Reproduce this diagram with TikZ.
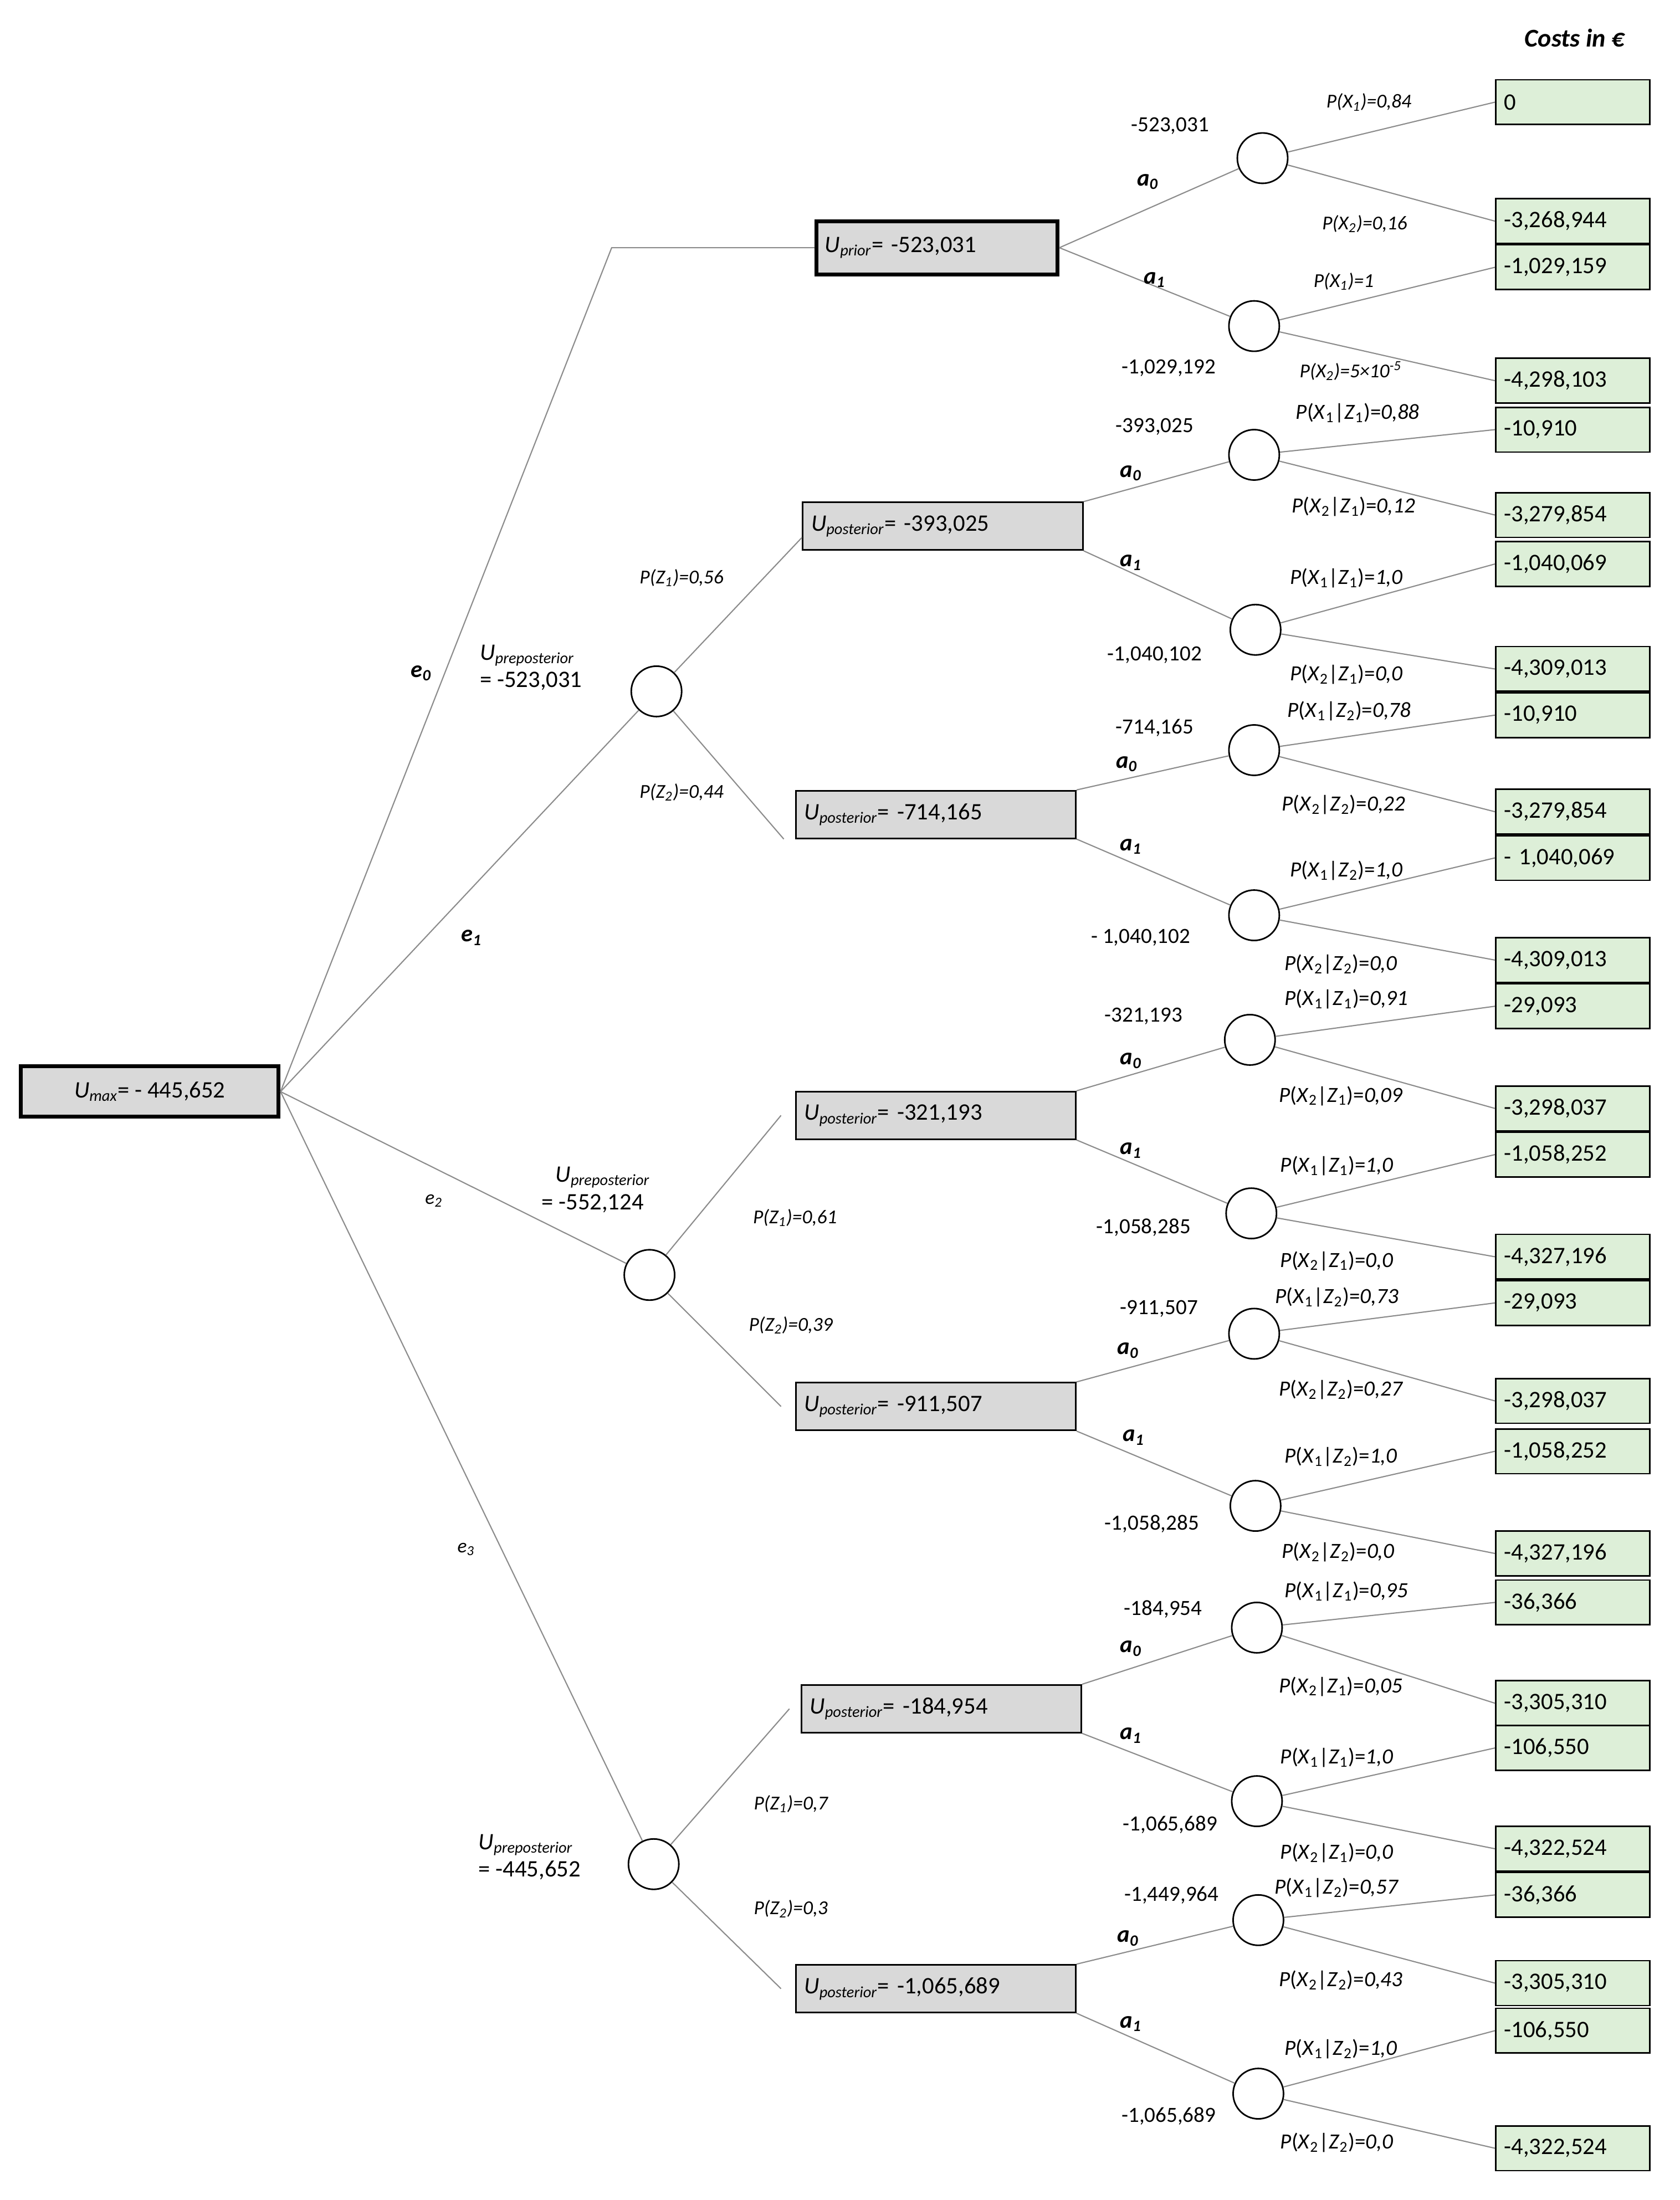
\documentclass[tikz,border=0pt]{standalone}
\usepackage{fontspec}
\setmainfont{Carlito}
\newcommand{\Ux}[1]{\textit{U\textsubscript{#1}}}
\begin{document}
\begin{tikzpicture}[x=0.025cm,y=-0.025cm,font=\fontsize{11}{13}\selectfont]
\definecolor{leafg}{HTML}{DDEFD8}
\definecolor{boxg}{HTML}{D9D9D9}
\definecolor{ln}{HTML}{8C8C8C}
\tikzset{
 leaf/.style={draw,thick,fill=leafg,anchor=west,minimum width=2.75cm,minimum height=0.8cm,text width=2.45cm,align=left,inner sep=3pt,font=\fontsize{12}{14}\selectfont},
 chance/.style={circle,draw,thick,minimum size=0.9cm,inner sep=0pt},
 post/.style={draw,thick,fill=boxg,anchor=west,minimum width=5cm,minimum height=0.85cm,text width=4.7cm,align=left,font=\fontsize{12}{14}\selectfont},
 conn/.style={draw=ln,line width=0.6pt},
 pl/.style={font=\fontsize{10}{12}\selectfont\itshape},
 val/.style={font=\fontsize{11}{13}\selectfont},
}
\useasboundingbox (0,0) rectangle (1200,1572);
\node[font=\fontsize{13}{15}\selectfont\bfseries\itshape] (costs) at (1125,27) {Costs in €};
% leaves
\foreach \i/\y/\t in {1/73/0,2/158/{-3,268,944},3/191/{-1,029,159},4/272/{-4,298,103},5/307/{-10,910},6/368/{-3,279,854},7/403/{-1,040,069},8/478/{-4,309,013},9/511/{-10,910},10/580/{-3,279,854},11/613/{- 1,040,069},12/686/{-4,309,013},13/719/{-29,093},14/792/{-3,298,037},15/825/{-1,058,252},16/898/{-4,327,196},17/931/{-29,093},18/1001/{-3,298,037},19/1037/{-1,058,252},20/1110/{-4,327,196},21/1145/{-36,366},22/1217/{-3,305,310},23/1249/{-106,550},24/1321/{-4,322,524},25/1354/{-36,366},26/1417/{-3,305,310},27/1451/{-106,550},28/1535/{-4,322,524}}
  \node[leaf] (l\i) at (1068,\y) {\t};
% chance nodes at decision level
\foreach \i/\x/\y in {1/902/113,2/896/233,3/896/325,4/897/450,5/896/536,6/896/654,7/893/743,8/894/867,9/896/953,10/897/1076,11/898/1163,12/898/1287,13/899/1372,14/899/1496}
  \node[chance] (c\i) at (\x,\y) {};
\foreach \i in {1,...,14}{
  \pgfmathtruncatemacro{\a}{2*\i-1}\pgfmathtruncatemacro{\b}{2*\i}
  \draw[conn] (c\i) -- (l\a.west);
  \draw[conn] (c\i) -- (l\b.west);
}
% root and first level
\node[draw,line width=2pt,fill=boxg,minimum width=4.6cm,minimum height=0.9cm,font=\fontsize{12}{14}\selectfont] (root) at (107,780) {\Ux{max}= - 445,652};
\node[draw,line width=2pt,fill=boxg,anchor=west,minimum width=4.3cm,minimum height=0.95cm,text width=4cm,align=left,font=\fontsize{12}{14}\selectfont] (prior) at (582,177) {\Ux{prior}= -523,031};
\coordinate (k0) at (437,177);
\node[chance] (q1) at (469,494) {};
\node[chance] (q2) at (464,911) {};
\node[chance] (q3) at (467,1332) {};
\draw[conn] (root.east) -- (k0) -- (prior.west);
\draw[conn] (root.east) -- (q1);
\draw[conn] (root.east) -- (q2);
\draw[conn] (root.east) -- (q3);
\node[font=\fontsize{12}{14}\selectfont\bfseries\itshape] at (301,481) {e\textsubscript{0}};
\node[font=\fontsize{12}{14}\selectfont\bfseries\itshape] at (337,670) {e\textsubscript{1}};
\node[pl] at (310,858) {e\textsubscript{2}};
\node[pl] at (333,1107) {e\textsubscript{3}};
% posterior boxes
\node[post] (p1) at (573,376) {\Ux{posterior}= -393,025};
\node[post] (p2) at (568,582) {\Ux{posterior}= -714,165};
\node[post] (p3) at (568,797) {\Ux{posterior}= -321,193};
\node[post] (p4) at (568,1005) {\Ux{posterior}= -911,507};
\node[post] (p5) at (572,1221) {\Ux{posterior}= -184,954};
\node[post] (p6) at (568,1421) {\Ux{posterior}= -1,065,689};
\draw[conn] (q1) -- ([yshift=-0.2cm]p1.west);
\draw[conn] (q1) -- ([xshift=-0.2cm]p2.south west);
\draw[conn] (q2) -- ([xshift=-0.25cm]p3.west);
\draw[conn] (q2) -- ([xshift=-0.25cm]p4.west);
\draw[conn] (q3) -- ([xshift=-0.2cm]p5.west);
\draw[conn] (q3) -- ([xshift=-0.25cm]p6.west);
% decisions
\draw[conn] (prior.east) -- (c1);
\draw[conn] (prior.east) -- (c2);
\draw[conn] (p1.north east) -- (c3); \draw[conn] (p1.south east) -- (c4);
\draw[conn] (p2.north east) -- (c5); \draw[conn] (p2.south east) -- (c6);
\draw[conn] (p3.north east) -- (c7); \draw[conn] (p3.south east) -- (c8);
\draw[conn] (p4.north east) -- (c9); \draw[conn] (p4.south east) -- (c10);
\draw[conn] (p5.north east) -- (c11); \draw[conn] (p5.south east) -- (c12);
\draw[conn] (p6.north east) -- (c13); \draw[conn] (p6.south east) -- (c14);
% preposterior labels
\node[font=\fontsize{12}{14}\selectfont,align=left,anchor=west] at (338,477) {\Ux{preposterior}\\= -523,031};
\node[font=\fontsize{12}{14}\selectfont,align=left,anchor=west] at (382,850) {\hspace{0.25cm}\Ux{preposterior}\\= -552,124};
\node[font=\fontsize{12}{14}\selectfont,align=left,anchor=west] at (337,1327) {\Ux{preposterior}\\= -445,652};
\node[pl] at (487,413) {P(Z\textsubscript{1})=0,56};
\node[pl] at (487,566) {P(Z\textsubscript{2})=0,44};
\node[pl] at (568,870) {P(Z\textsubscript{1})=0,61};
\node[pl] at (565,947) {P(Z\textsubscript{2})=0,39};
\node[pl] at (565,1289) {P(Z\textsubscript{1})=0,7};
\node[pl] at (565,1364) {P(Z\textsubscript{2})=0,3};
% decision labels and values
\foreach \vx/\vy/\v/\ax/\ay/\bx/\by/\wx/\wy/\w in {
836/90/{-523,031}/820/130/825/200/835/263/{-1,029,192},
825/305/{-393,025}/808/338/808/402/825/468/{-1,040,102},
825/520/{-714,165}/805/546/808/605/815/670/{- 1,040,102},
817/726/{-321,193}/808/758/808/822/817/877/{-1,058,285},
828/935/{-911,507}/806/965/810/1027/823/1089/{-1,058,285},
831/1150/{-184,954}/808/1178/808/1240/836/1304/{-1,065,689},
837/1354/{-1,449,964}/806/1385/808/1446/835/1512/{-1,065,689}}{
  \node[val] at (\vx,\vy) {\v};
  \node[font=\fontsize{12}{14}\selectfont\bfseries\itshape] at (\ax,\ay) {a\textsubscript{0}};
  \node[font=\fontsize{12}{14}\selectfont\bfseries\itshape] at (\bx,\by) {a\textsubscript{1}};
  \node[val] at (\wx,\wy) {\w};
}
% prior probabilities
\node[pl] at (978,73) {P(X\textsubscript{1})=0,84};
\node[pl] at (975,160) {P(X\textsubscript{2})=0,16};
\node[pl] at (960,201) {P(X\textsubscript{1})=1};
\node[pl] at (965,265) {P(X\textsubscript{2})=5×10\textsuperscript{-5}};
% conditional probabilities
\foreach \x/\y/\k/\z/\p in {
970/295/1/1/{0,88}, 967/362/2/1/{0,12}, 962/413/1/1/{1,0}, 962/482/2/1/{0,0},
964/508/1/2/{0,78}, 960/575/2/2/{0,22}, 962/622/1/2/{1,0}, 958/689/2/2/{0,0},
962/714/1/1/{0,91}, 958/783/2/1/{0,09}, 955/833/1/1/{1,0}, 955/901/2/1/{0,0},
955/927/1/2/{0,73}, 958/993/2/2/{0,27}, 958/1041/1/2/{1,0}, 956/1109/2/2/{0,0},
962/1137/1/1/{0,95}, 958/1205/2/1/{0,05}, 955/1256/1/1/{1,0}, 955/1324/2/1/{0,0},
955/1349/1/2/{0,57}, 958/1415/2/2/{0,43}, 958/1464/1/2/{1,0}, 955/1531/2/2/{0,0}}
  \node[font=\fontsize{11}{13}\selectfont] at (\x,\y) {\textit{P}(\textit{X}\textsubscript{\k}|\textit{Z}\textsubscript{\z})=\textit{\p}};
\end{tikzpicture}
\end{document}
